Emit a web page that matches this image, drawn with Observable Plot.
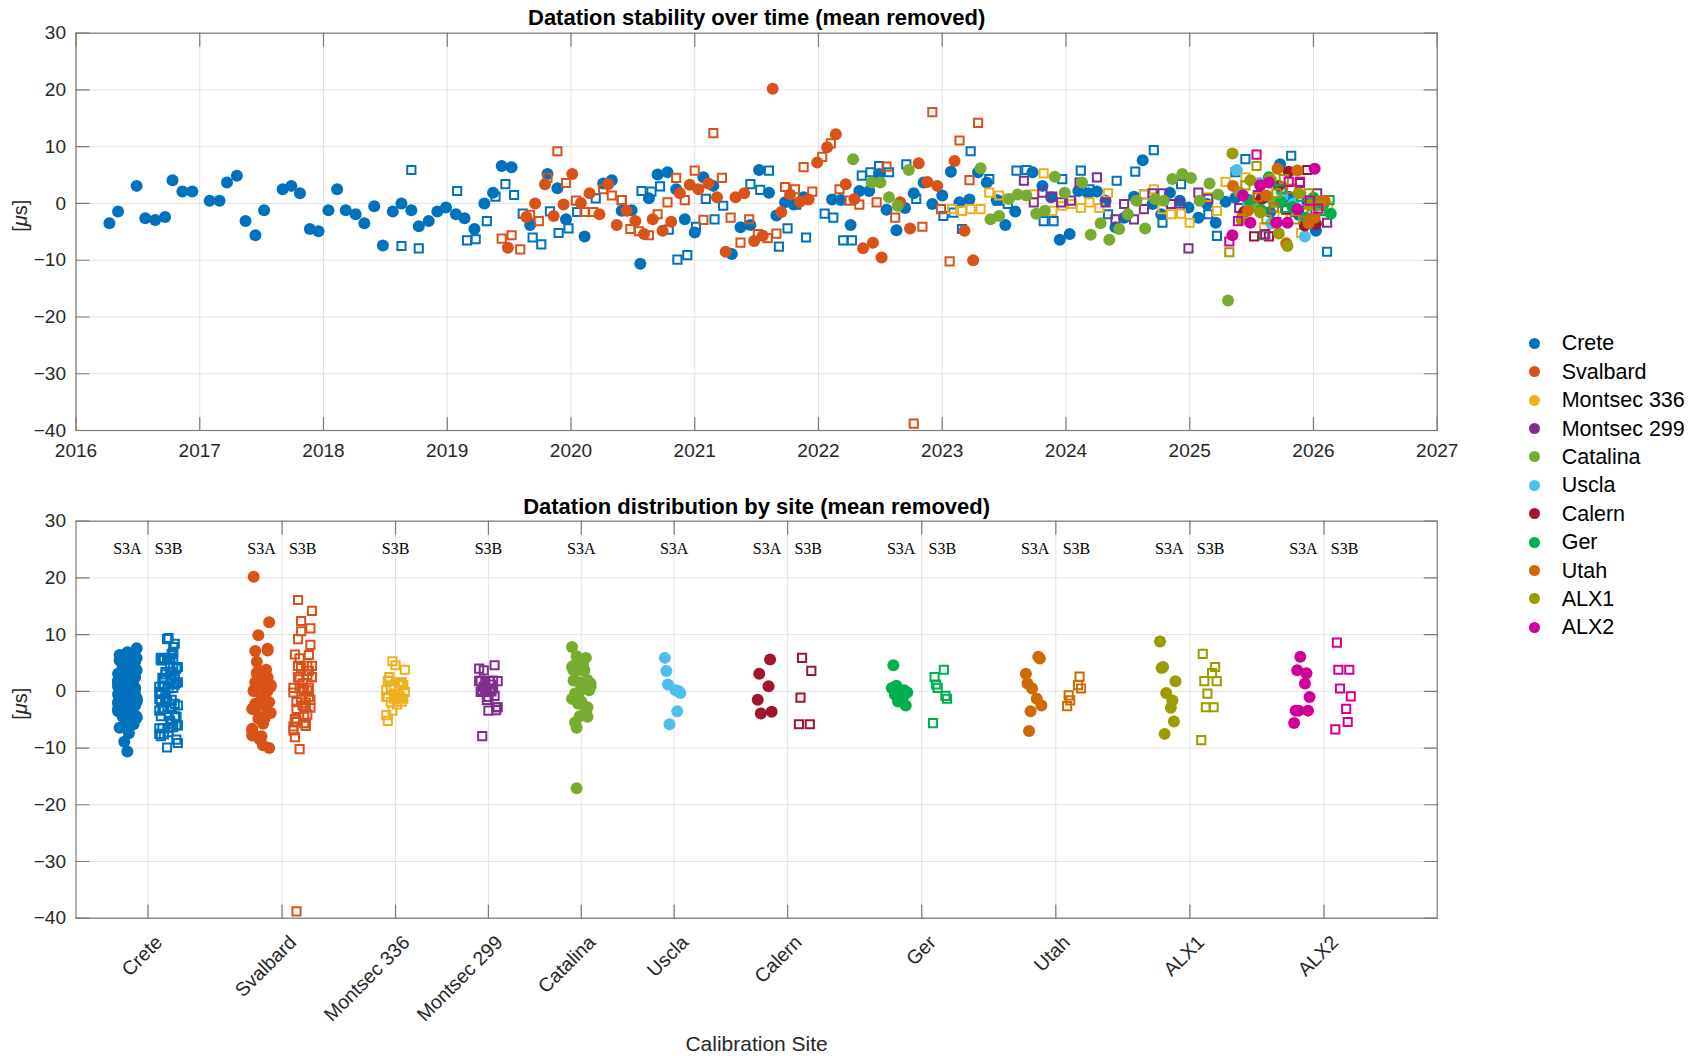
<!DOCTYPE html>
<html><head><meta charset="utf-8">
<script src="https://cdn.jsdelivr.net/npm/d3@7"></script>
<script src="https://cdn.jsdelivr.net/npm/@observablehq/plot@0.6"></script>
<style>
body{margin:0;background:#fff;width:1696px;height:1056px;overflow:hidden;font-family:"Liberation Sans",Arial,sans-serif;}
#wrap{position:relative;width:1696px;height:1056px;}
#top{position:absolute;left:0;top:0;}
#bot{position:absolute;left:0;top:480px;}
.sw{position:absolute;width:11px;height:11px;border-radius:50%;}
.lt{position:absolute;font-size:21.5px;color:#000;line-height:24px;white-space:nowrap;}
</style></head><body><div id="wrap"><div id="top"></div><div id="bot"></div></div>
<script>
// ---------- DATA ----------
const sites = ["Crete","Svalbard","Montsec 336","Montsec 299","Catalina","Uscla","Calern","Ger","Utah","ALX1","ALX2"];
const siteColors = ["#0072BD","#D95319","#EDB120","#7E2F8E","#77AC30","#4DBEEE","#A2142F","#00B04F","#D06A00","#9C9C00","#D1009A"];
const yTicks = [-40,-30,-20,-10,0,10,20,30];
const yearTicks = [2016,2017,2018,2019,2020,2021,2022,2023,2024,2025,2026,2027];

// [decimal year, value in µs]
const creteA = [[2016.27,-3.5],[2016.34,-1.4],[2016.49,3.1],[2016.56,-2.6],[2016.64,-2.9],[2016.72,-2.4],[2016.78,4.1],[2016.86,2.1],[2016.94,2.1],[2017.08,0.5],[2017.16,0.5],[2017.22,3.7],[2017.30,4.9],[2017.37,-3.1],[2017.45,-5.6],[2017.52,-1.2],[2017.67,2.5],[2017.74,3.1],[2017.81,1.8],[2017.89,-4.5],[2017.96,-4.9],[2018.04,-1.2],[2018.11,2.5],[2018.18,-1.2],[2018.26,-1.9],[2018.33,-3.5],[2018.41,-0.5],[2018.48,-7.4],[2018.56,-1.4],[2018.63,0],[2018.71,-1.2],[2018.77,-4.0],[2018.85,-3.1],[2018.92,-1.4],[2018.99,-0.7],[2019.07,-1.9],[2019.14,-2.6],[2019.22,-4.5],[2019.30,0],[2019.37,1.9],[2019.44,6.6],[2019.52,6.4],[2019.67,-3.8],[2019.81,5.2],[2019.89,2.7],[2019.96,-2.8],[2020.11,-5.8],[2020.26,3.5],[2020.33,4.1],[2020.41,-1.3],[2020.49,-1.2],[2020.56,-10.6],[2020.63,0.9],[2020.70,5.1],[2020.78,5.5],[2020.85,2.5],[2020.92,-2.8],[2021.00,-5.1],[2021.07,4.6],[2021.15,3.1],[2021.30,-8.9],[2021.37,-4.2],[2021.45,-3.8],[2021.52,5.9],[2021.60,1.9],[2021.66,-2.1],[2021.73,0.2],[2021.80,-0.2],[2021.88,1.1],[2022.11,0.7],[2022.18,0.6],[2022.26,-3.8],[2022.33,2.2],[2022.41,2.2],[2022.49,5.2],[2022.55,-1.1],[2022.63,-4.7],[2022.70,-0.8],[2022.77,1.8],[2022.85,3.7],[2022.92,-0.1],[2023.00,1.4],[2023.07,5.6],[2023.14,0.2],[2023.22,0.7],[2023.29,5.5],[2023.36,3.7],[2023.44,0.6],[2023.51,-3.8],[2023.59,-1.4],[2023.73,5.5],[2023.81,3.1],[2023.88,1.1],[2023.95,-6.4],[2024.03,-5.4],[2024.10,2.2],[2024.18,1.8],[2024.25,2.1],[2024.32,0.5],[2024.40,-4.2],[2024.47,-2.5],[2024.55,1.2],[2024.62,7.6],[2024.70,-0.1],[2024.77,-1.9],[2024.84,1.9],[2024.92,0.5],[2024.99,-0.7],[2025.07,-2.5],[2025.14,-0.1],[2025.21,-3.4],[2025.29,0.3],[2025.37,1.0],[2025.50,-0.5],[2025.58,0.8],[2025.65,-1.5],[2025.73,6.9],[2025.80,1.2],[2025.88,-2.0],[2025.95,0.4],[2026.02,-4.8]];
const creteB = [[2018.63,-7.5],[2018.71,5.9],[2018.77,-7.9],[2019.08,2.2],[2019.16,-6.5],[2019.23,-6.3],[2019.32,-3.1],[2019.39,1.2],[2019.47,3.4],[2019.54,1.5],[2019.61,-1.8],[2019.69,-6.0],[2019.76,-7.2],[2019.83,-1.4],[2019.90,-5.2],[2019.98,-4.4],[2020.05,-1.5],[2020.20,0.9],[2020.41,0.6],[2020.57,2.2],[2020.65,2.1],[2020.72,3.0],[2020.79,-4.6],[2020.86,-9.9],[2020.94,-9.1],[2021.01,-4.1],[2021.09,0.8],[2021.16,-2.8],[2021.23,-0.4],[2021.45,3.4],[2021.53,2.4],[2021.60,5.8],[2021.68,-7.6],[2021.75,-4.4],[2021.82,-0.2],[2021.90,-6.0],[2022.05,-1.8],[2022.12,-2.5],[2022.20,-6.5],[2022.27,-6.5],[2022.35,4.9],[2022.42,5.5],[2022.49,6.6],[2022.57,5.5],[2022.71,6.9],[2022.79,0.8],[2023.01,-2.2],[2023.09,-1.6],[2023.16,-4.5],[2023.23,9.2],[2023.38,4.3],[2023.45,0.5],[2023.53,-0.1],[2023.60,5.8],[2023.68,5.9],[2023.82,-3.1],[2023.90,-3.1],[2023.97,4.3],[2024.12,5.8],[2024.19,2.5],[2024.34,-1.9],[2024.41,4.0],[2024.56,5.6],[2024.63,1.6],[2024.71,9.4],[2024.78,-3.4],[2024.93,3.4],[2025.15,-1.9],[2025.22,-5.7],[2025.37,5.5],[2025.45,7.8],[2025.60,1.0],[2025.82,8.4],[2025.95,-1.2],[2026.11,-8.5]];
const svalbardA = [[2019.49,-7.8],[2019.64,-2.4],[2019.71,0],[2019.79,3.4],[2019.86,-2.2],[2019.94,-0.2],[2020.01,5.2],[2020.08,0.1],[2020.15,1.8],[2020.23,-1.9],[2020.30,3.4],[2020.37,-3.8],[2020.45,-1.3],[2020.52,-3.1],[2020.59,-5.4],[2020.66,-2.8],[2020.74,-4.8],[2020.81,-3.2],[2020.88,1.8],[2020.96,3.3],[2021.03,2.5],[2021.11,3.5],[2021.18,1.1],[2021.25,-8.5],[2021.33,1.1],[2021.40,1.8],[2021.48,-6.6],[2021.55,-5.7],[2021.63,20.2],[2021.70,-1.5],[2021.77,1.6],[2021.85,0.3],[2021.92,0.7],[2021.99,7.2],[2022.07,9.9],[2022.14,12.2],[2022.22,3.4],[2022.29,0.8],[2022.36,-7.9],[2022.44,-6.9],[2022.51,-9.5],[2022.66,0.2],[2022.74,-4.4],[2022.81,7.1],[2022.88,3.8],[2022.96,3.1],[2023.10,7.5],[2023.18,-4.8],[2023.25,-10.0]];
const svalbardB = [[2019.44,-6.2],[2019.52,-5.6],[2019.59,-8.1],[2019.67,-2.0],[2019.74,-3.1],[2019.81,4.5],[2019.89,9.2],[2019.96,3.6],[2020.04,0.5],[2020.11,-1.5],[2020.18,-1.5],[2020.26,2.5],[2020.33,1.4],[2020.41,0.6],[2020.48,-4.5],[2020.55,-4.9],[2020.63,-5.6],[2020.70,-1.9],[2020.78,0.2],[2020.85,4.5],[2020.92,0.6],[2021.00,5.8],[2021.07,-2.9],[2021.15,12.4],[2021.22,4.5],[2021.29,-2.5],[2021.37,-6.9],[2021.44,-2.8],[2021.51,-5.4],[2021.59,-6.1],[2021.66,-5.3],[2021.73,2.9],[2021.81,2.5],[2021.88,6.4],[2021.95,2.1],[2022.03,8.2],[2022.10,10.6],[2022.17,2.5],[2022.25,0.5],[2022.33,-0.2],[2022.47,0.2],[2022.55,6.5],[2022.62,-2.5],[2022.77,-38.8],[2022.84,-4.1],[2022.92,16.1],[2022.99,-1.0],[2023.06,-10.2],[2023.14,11.1],[2023.22,4.1],[2023.29,14.2]];
const montsec336B = [[2023.08,-1.0],[2023.16,-1.3],[2023.23,-1.0],[2023.31,-1.0],[2023.38,1.9],[2023.46,1.4],[2023.53,0.8],[2023.74,1.6],[2023.82,5.3],[2023.89,-1.3],[2023.97,-0.4],[2024.05,-0.1],[2024.12,-0.8],[2024.19,0.2],[2024.27,-0.8],[2024.34,1.8],[2024.63,1.6],[2024.71,2.5],[2024.78,-1.0],[2024.85,-1.9],[2024.93,-1.8],[2025.00,-3.4],[2025.15,1.1],[2025.22,-1.3],[2025.29,3.8],[2025.45,4.6],[2025.60,-4.2],[2025.75,-2.3],[2025.90,-5.2],[2026.12,-0.5]];
const montsec299B = [[2023.66,4.0],[2023.74,0.2],[2023.81,1.9],[2023.89,1.2],[2023.96,0.2],[2024.04,0.5],[2024.11,3.7],[2024.25,4.6],[2024.32,0.2],[2024.40,-2.8],[2024.47,-0.1],[2024.55,-2.8],[2024.63,-1.0],[2024.70,1.8],[2024.78,1.8],[2024.85,-0.1],[2024.92,0],[2024.99,-7.9],[2025.07,1.9],[2025.15,0.8],[2025.40,-0.8],[2025.55,1.5],[2025.70,-3.3],[2025.85,-1.5],[2026.03,1.8],[2026.11,-3.4]];
const catalinaA = [[2022.28,7.8],[2022.43,3.7],[2022.50,3.7],[2022.57,1.1],[2022.64,-0.4],[2022.73,5.9],[2023.31,6.2],[2023.39,-2.8],[2023.46,-2.2],[2023.54,0.8],[2023.61,1.6],[2023.68,1.4],[2023.76,-1.8],[2023.83,-1.3],[2023.91,4.7],[2023.99,1.9],[2024.13,3.7],[2024.20,-5.5],[2024.28,-3.5],[2024.35,-6.4],[2024.43,-4.5],[2024.50,-1.9],[2024.57,0.5],[2024.64,-4.4],[2024.72,0.8],[2024.79,0.5],[2024.86,4.3],[2024.94,5.2],[2025.01,4.5],[2025.08,0.5],[2025.16,3.5],[2025.23,1.6],[2025.31,-17.1],[2025.40,2.0],[2025.55,-0.8],[2025.68,0.2]];
const usclaA = [[2025.38,5.9],[2025.47,0.2],[2025.56,3.6],[2025.66,-3.5],[2025.75,1.2],[2025.84,0],[2025.93,-5.8],[2026.05,-0.3]];
const calernA = [[2025.44,-1.5],[2025.58,0.9],[2025.72,3.1],[2025.80,5.6],[2025.93,-3.9],[2026.02,-3.6]];
const calernB = [[2025.52,-5.8],[2025.64,-5.8],[2025.78,-1.1],[2025.89,3.6],[2025.95,5.9]];
const gerA = [[2025.48,0.6],[2025.58,-1.2],[2025.64,4.6],[2025.74,0.2],[2025.83,-0.6],[2025.94,-2.5],[2026.00,1.0],[2026.08,-0.2],[2026.14,-1.8]];
const gerB = [[2025.60,-5.6],[2025.66,3.8],[2025.74,2.5],[2025.77,-0.8],[2025.90,1.2],[2026.06,-1.3],[2026.13,0.6]];
const utahA = [[2025.35,3.1],[2025.47,-1.3],[2025.62,1.4],[2025.71,6.1],[2025.78,-7.0],[2025.87,5.8],[2025.96,-3.5],[2026.01,-2.5],[2026.09,0.5]];
const utahB = [[2025.42,-2.6],[2025.55,1.1],[2025.68,-0.7],[2025.82,2.6],[2025.92,-1.6],[2026.06,0.5]];
const alx1A = [[2025.345,8.8],[2025.42,-2.9],[2025.49,4.1],[2025.57,-1.6],[2025.65,4.3],[2025.72,-5.3],[2025.79,-7.5],[2025.88,1.8],[2025.97,-0.3]];
const alx1B = [[2025.32,-8.6],[2025.45,3.2],[2025.54,6.6],[2025.62,-2.8],[2025.70,1.8],[2025.76,4.3],[2025.85,-2.8],[2025.96,1.8],[2026.05,-0.4]];
const alx2A = [[2025.345,-5.6],[2025.43,1.4],[2025.49,-3.4],[2025.57,3.2],[2025.64,3.7],[2025.70,-3.4],[2025.79,-3.4],[2025.87,-1.0],[2026.01,6.1]];
const alx2B = [[2025.32,-6.7],[2025.39,-3.1],[2025.54,8.6],[2025.61,-5.4],[2025.80,3.8],[2025.89,3.8],[2025.97,0.5],[2026.04,-0.9]];

const seriesA = [creteA, svalbardA, null, null, catalinaA, usclaA, calernA, gerA, utahA, alx1A, alx2A];
const seriesB = [creteB, svalbardB, montsec336B, montsec299B, null, null, calernB, gerB, utahB, alx1B, alx2B];

// ---------- layout of the site axis (derived from which satellites each site has) ----------
const SUB = 0.222;          // half-separation S3A / S3B
const hasTwo = sites.map((s, i) => !!seriesA[i] && !!seriesB[i]);
const sitePos = [];
sites.forEach((s, i) => {
  sitePos.push(i === 0 ? 0 : sitePos[i - 1] + 1 + SUB * (hasTwo[i - 1] ? 1 : 0) + SUB * (hasTwo[i] ? 1 : 0));
});
const satX = (i, sat) => hasTwo[i] ? sitePos[i] + (sat === "S3A" ? -SUB : SUB) : sitePos[i];

function rowsOf(arr, i, sat) {
  if (!arr) return [];
  return arr.map((d, k) => ({
    site: sites[i], sat, year: d[0], value: d[1],
    sx: satX(i, sat) + ((((k * 7) % 13) / 12) - 0.5) * 0.2
  }));
}

const font = "Liberation Sans, Arial, sans-serif";
const axisCol = "#262626";
const gridCol = "#e3e3e3";
const frameCol = "#7a7a7a";

function dataMarks(xField) {
  const marks = [];
  sites.forEach((s, i) => {
    const a = rowsOf(seriesA[i], i, "S3A");
    const b = rowsOf(seriesB[i], i, "S3B");
    if (a.length) marks.push(Plot.dot(a, {x: xField, y: "value", fill: siteColors[i], r: 6, stroke: "none"}));
    if (b.length) marks.push(Plot.dot(b, {x: xField, y: "value", symbol: "square", stroke: siteColors[i], fill: "none", strokeWidth: 2, r: 4.6}));
  });
  return marks;
}

// inward tick marks on all four sides of the box
const tickShape = {draw(ctx, l) { ctx.moveTo(0, 0); ctx.lineTo(0, -l); }};
function frameTicks(xT, yT, xd, yd) {
  const o = {length: 13, shape: tickShape, anchor: "start", stroke: frameCol, strokeWidth: 1.2};
  return [
    Plot.vector(yT, {...o, x: () => xd[0], y: d => d, rotate: 90}),
    Plot.vector(yT, {...o, x: () => xd[1], y: d => d, rotate: -90}),
    Plot.vector(xT, {...o, x: d => d, y: () => yd[1], rotate: 180}),
    Plot.vector(xT, {...o, x: d => d, y: () => yd[0], rotate: 0}),
  ];
}

// ---------- TOP PANEL ----------
const xTopDomain = [2016, 2027];
const yDomain = [-40, 30];
const topPlot = Plot.plot({
  width: 1480, height: 470,
  marginLeft: 75.5, marginRight: 43.3, marginTop: 32.7, marginBottom: 40,
  style: {fontFamily: font, fontSize: "19px", color: axisCol, background: "transparent"},
  x: {domain: xTopDomain, label: null},
  y: {domain: yDomain, label: null},
  marks: [
    Plot.gridX(yearTicks, {stroke: gridCol, strokeOpacity: 1}),
    Plot.gridY(yTicks, {stroke: gridCol, strokeOpacity: 1}),
    ...frameTicks(yearTicks, yTicks, xTopDomain, yDomain),
    Plot.axisY(yTicks, {anchor: "left", tickSize: 0, tickPadding: 10, fontSize: 19, label: null}),
    Plot.axisX(yearTicks, {anchor: "bottom", tickSize: 0, tickPadding: 13, tickFormat: "d", fontSize: 19, label: null}),
    ...dataMarks("year"),
    Plot.frame({stroke: frameCol, strokeWidth: 1.2}),
    Plot.text(["Datation stability over time (mean removed)"], {text: d => d, frameAnchor: "top", dy: -15, lineAnchor: "middle", fontWeight: "bold", fontSize: 22, fill: "#000"}),
    Plot.text(["[μs]"], {text: d => d, frameAnchor: "left", dx: -55, rotate: -90, lineAnchor: "middle", fontSize: 20, fill: axisCol})
  ]
});
document.getElementById("top").appendChild(topPlot);

// ---------- BOTTOM PANEL ----------
const satLabels = [];
sites.forEach((s, i) => {
  if (seriesA[i]) satLabels.push({x: satX(i, "S3A"), t: "S3A"});
  if (seriesB[i]) satLabels.push({x: satX(i, "S3B"), t: "S3B"});
});
const xBotDomain = [sitePos[0] - 0.775, sitePos[sitePos.length - 1] + 1.219];
const botPlot = Plot.plot({
  width: 1480, height: 576,
  marginLeft: 75.5, marginRight: 43.3, marginTop: 40.7, marginBottom: 138.3,
  style: {fontFamily: font, fontSize: "19px", color: axisCol, background: "transparent"},
  x: {domain: xBotDomain, label: null},
  y: {domain: yDomain, label: null},
  marks: [
    Plot.gridX(sitePos, {stroke: gridCol, strokeOpacity: 1}),
    Plot.gridY(yTicks, {stroke: gridCol, strokeOpacity: 1}),
    ...frameTicks(sitePos, yTicks, xBotDomain, yDomain),
    Plot.axisY(yTicks, {anchor: "left", tickSize: 0, tickPadding: 10, fontSize: 19, label: null}),
    Plot.axisX(sitePos, {anchor: "bottom", tickSize: 0, tickPadding: 21, dx: 11, tickRotate: -45, tickFormat: p => sites[sitePos.indexOf(p)], fontSize: 19.5, label: null}),
    ...dataMarks("sx"),
    Plot.frame({stroke: frameCol, strokeWidth: 1.2}),
    Plot.text(satLabels, {x: "x", text: "t", frameAnchor: "top", dy: 27.3, lineAnchor: "middle", fontFamily: "Liberation Serif, DejaVu Serif, serif", fontSize: 16, fill: "#000"}),
    Plot.text(["Datation distribution by site (mean removed)"], {text: d => d, frameAnchor: "top", dy: -14.5, lineAnchor: "middle", fontWeight: "bold", fontSize: 22, fill: "#000"}),
    Plot.text(["[μs]"], {text: d => d, frameAnchor: "left", dx: -55, rotate: -90, lineAnchor: "middle", fontSize: 20, fill: axisCol}),
    Plot.text(["Calibration Site"], {text: d => d, frameAnchor: "bottom", dy: 126, lineAnchor: "middle", fontSize: 21, fill: axisCol})
  ]
});
document.getElementById("bot").appendChild(botPlot);

// italic µ as in the LaTeX label
document.querySelectorAll("svg text").forEach(t => {
  if (t.textContent === "[μs]") t.innerHTML = '[<tspan font-style="italic">μ</tspan>s]';
});

// ---------- LEGEND ----------
const wrap = document.getElementById("wrap");
sites.forEach((s, i) => {
  const cy = 343.3 + i * 28.4;
  const c = document.createElement("div");
  c.className = "sw"; c.style.left = (1534 - 5.5) + "px"; c.style.top = (cy - 5.5) + "px"; c.style.background = siteColors[i];
  wrap.appendChild(c);
  const t = document.createElement("div");
  t.className = "lt"; t.style.left = "1561.7px"; t.style.top = (cy - 12) + "px"; t.textContent = s;
  wrap.appendChild(t);
});
</script></body></html>
